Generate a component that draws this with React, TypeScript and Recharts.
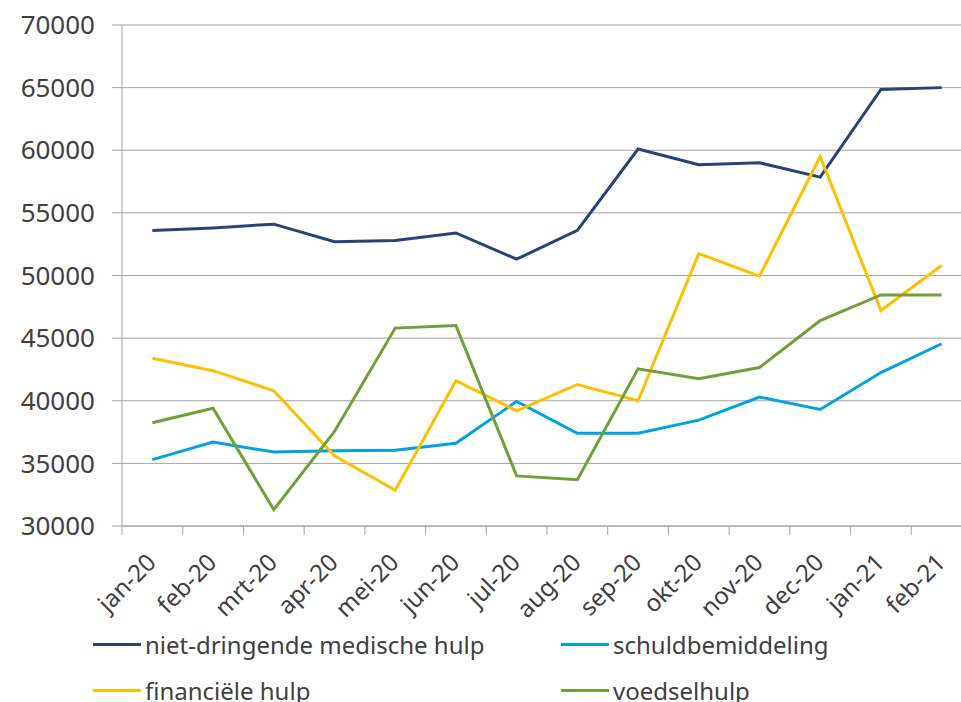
import { LineChart, Line, XAxis, YAxis, CartesianGrid, Legend } from 'recharts'

const months = ['jan-20', 'feb-20', 'mrt-20', 'apr-20', 'mei-20', 'jun-20', 'jul-20', 'aug-20', 'sep-20', 'okt-20', 'nov-20', 'dec-20', 'jan-21', 'feb-21']

const medisch = [53600, 53800, 54100, 52700, 52800, 53400, 51300, 53600, 60100, 58850, 59000, 57850, 64850, 65000]
const schuld = [35300, 36700, 35900, 36000, 36050, 36600, 39950, 37400, 37400, 38450, 40300, 39300, 42250, 44550]
const financieel = [43400, 42400, 40800, 35600, 32850, 41600, 39200, 41300, 40000, 51750, 49950, 59500, 47200, 50800]
const voedsel = [38250, 39400, 31300, 37550, 45800, 46000, 34000, 33700, 42550, 41750, 42650, 46400, 48450, 48450]

const seriesNames = ['niet-dringende medische hulp', 'schuldbemiddeling', 'financiële hulp', 'voedselhulp']

const yTicks = [30000, 35000, 40000, 45000, 50000, 55000, 60000, 65000, 70000]

const GRID = '#a3a3a3'
const TEXT = '#404040'

// numeric x so the tick marks can sit between the months, like Excel
const data = months.map((m, i) => ({
  idx: i,
  month: m,
  medisch: medisch[i],
  schuld: schuld[i],
  financieel: financieel[i],
  voedsel: voedsel[i],
}))

const xTicks: number[] = []
for (let i = 0; i <= months.length; i++) {
  xTicks.push(i - 0.5)
  if (i < months.length) xTicks.push(i)
}

function MonthTick(props: any) {
  const { x, y, payload } = props
  const v = payload.value
  if (!Number.isInteger(v)) {
    return <line x1={x} y1={y} x2={x} y2={y + 9} stroke={GRID} strokeWidth={1} />
  }
  return (
    <text
      transform={`translate(${x + 5},${y + 38}) rotate(-45)`}
      textAnchor="end"
      fontSize={24}
      fill={TEXT}
    >
      {months[v]}
    </text>
  )
}

function renderLegend(props: any) {
  const items = [...(props.payload || [])].sort(
    (a: any, b: any) => seriesNames.indexOf(a.value) - seriesNames.indexOf(b.value)
  )
  return (
    <div style={{ display: 'grid', gridTemplateColumns: '468px 360px', height: 92 }}>
      {items.map((p: any) => (
        <div key={p.value} style={{ display: 'flex', alignItems: 'center', height: 46 }}>
          <span style={{ display: 'inline-block', flexShrink: 0, width: 48, height: 3, background: p.color, marginRight: 4 }} />
          <span style={{ fontSize: 24, color: TEXT, whiteSpace: 'nowrap' }}>{p.value}</span>
        </div>
      ))}
    </div>
  )
}

export default function App() {
  return (
    <div style={{ width: 961, height: 702, overflow: 'hidden', position: 'fixed', left: 0, top: 0, background: '#fff' }}>
      <style>{'html,body{margin:0;overflow:hidden}'}</style>
      <LineChart
        width={972}
        height={702}
        data={data}
        margin={{ top: 25, right: 0, bottom: 0, left: 0 }}
        style={{ fontFamily: '"Noto Sans", sans-serif' }}
      >
        <CartesianGrid vertical={false} stroke={GRID} strokeWidth={1} />
        <XAxis
          dataKey="idx"
          type="number"
          domain={[-0.5, months.length - 0.5]}
          ticks={xTicks}
          interval={0}
          tick={<MonthTick />}
          tickLine={false}
          tickSize={0}
          tickMargin={0}
          axisLine={{ stroke: GRID }}
          height={84}
        />
        <YAxis
          domain={[30000, 70000]}
          ticks={yTicks}
          width={122}
          tickSize={10}
          tickMargin={17}
          tickLine={{ stroke: GRID }}
          axisLine={{ stroke: GRID }}
          tick={{ fontSize: 26, fill: TEXT }}
        />
        <Legend
          content={renderLegend}
          wrapperStyle={{ position: 'absolute', left: 93, top: 621, width: 840 }}
        />
        <Line type="linear" dataKey="medisch" name={seriesNames[0]} stroke="#264478" strokeWidth={3} dot={false} isAnimationActive={false} />
        <Line type="linear" dataKey="schuld" name={seriesNames[1]} stroke="#00a2e1" strokeWidth={3} dot={false} isAnimationActive={false} />
        <Line type="linear" dataKey="financieel" name={seriesNames[2]} stroke="#ffc000" strokeWidth={3} dot={false} isAnimationActive={false} />
        <Line type="linear" dataKey="voedsel" name={seriesNames[3]} stroke="#70a037" strokeWidth={3} dot={false} isAnimationActive={false} />
      </LineChart>
    </div>
  )
}
